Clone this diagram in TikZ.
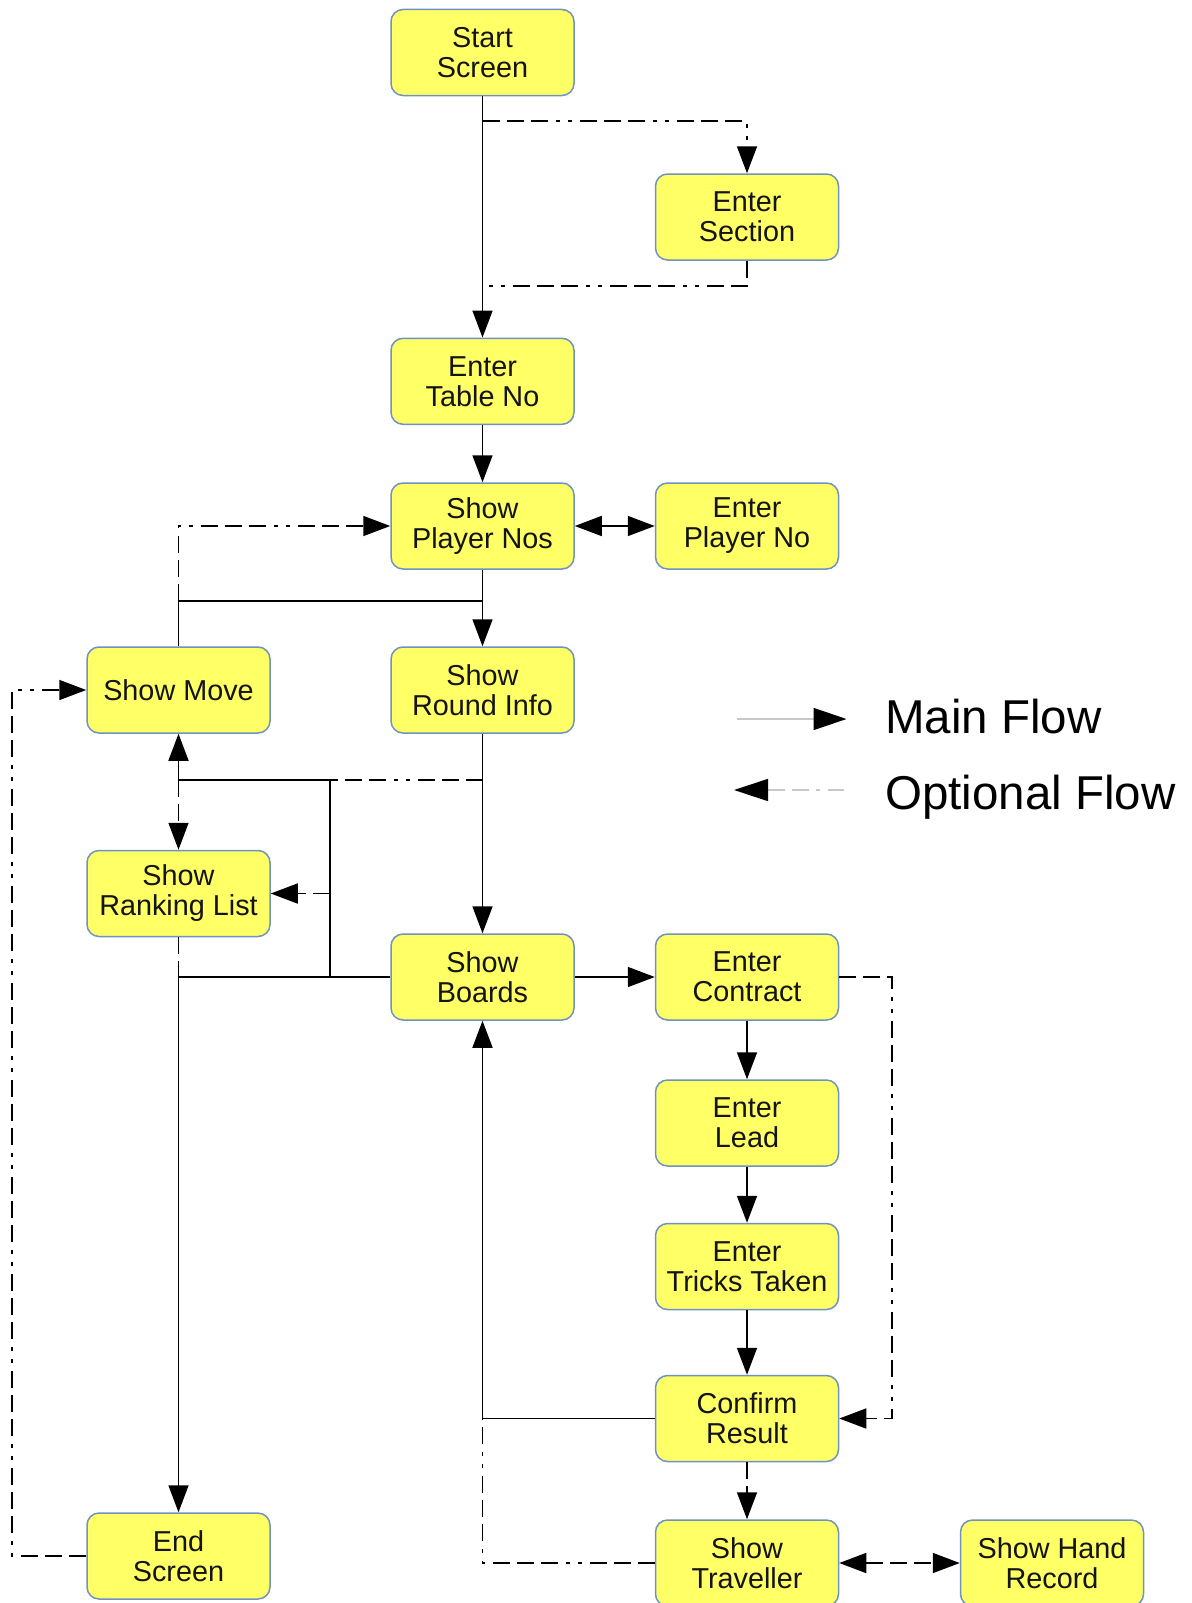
\documentclass[tikz,border=0pt]{standalone}
\usepackage{fontspec}
\setmainfont{Liberation Sans}
\usetikzlibrary{arrows.meta}
\definecolor{boxfill}{HTML}{FFFF66}
\definecolor{boxedge}{HTML}{6F93C0}
\definecolor{txt}{HTML}{141414}
\definecolor{legline}{HTML}{C8C8C8}
\tikzset{
  stepbox/.style={rectangle, rounded corners=12pt, fill=boxfill, draw=boxedge, line width=1.5pt,
    minimum width=183pt, minimum height=86pt, inner sep=0pt, align=center, text=txt,
    font=\fontsize{28.8}{30}\selectfont},
  tip/.style={-{Triangle[length=27pt,width=20pt]}},
  dtip/.style={{Triangle[length=27pt,width=20pt]}-{Triangle[length=27pt,width=20pt]}},
  solidln/.style={line width=1.6pt, black},
  optln/.style={line width=1.6pt, black, dash pattern=on 17pt off 7pt on 17pt off 7pt on 17pt off 8pt on 4pt off 8pt on 4pt off 8pt},
  legtext/.style={anchor=base west, inner sep=0pt, font=\fontsize{47.5}{50}\selectfont, text=black}
}
\begin{document}
\begin{tikzpicture}[x=1pt,y=-1pt]
\useasboundingbox (0,0) rectangle (1191,1603);
% nodes
\node[stepbox] (start) at (482.5,52.5) {Start\\Screen};
\node[stepbox] (section) at (747,217) {Enter\\Section};
\node[stepbox] (table) at (482.5,381.3) {Enter\\Table No};
\node[stepbox] (players) at (482.5,526) {Show\\Player Nos};
\node[stepbox] (playerno) at (747,526) {Enter\\Player No};
\node[stepbox] (move) at (178.5,690) {Show Move};
\node[stepbox] (round) at (482.5,690) {Show\\Round Info};
\node[stepbox] (ranking) at (178.5,893.5) {Show\\Ranking List};
\node[stepbox] (boards) at (482.5,977) {Show\\Boards};
\node[stepbox] (contract) at (747,977) {Enter\\Contract};
\node[stepbox] (lead) at (747,1123) {Enter\\Lead};
\node[stepbox] (tricks) at (747,1266.5) {Enter\\Tricks Taken};
\node[stepbox] (confirm) at (747,1418.5) {Confirm\\Result};
\node[stepbox] (endscr) at (178.5,1556) {End\\Screen};
\node[stepbox] (traveller) at (747,1563) {Show\\Traveller};
\node[stepbox] (hand) at (1052,1563) {Show Hand\\Record};
% junction coordinates
\coordinate (j1) at (482.5,121);
\coordinate (j2) at (482.5,286);
\coordinate (j3) at (178.5,601);
\coordinate (j4) at (482.5,601);
\coordinate (k1) at (482.5,780);
\coordinate (k2) at (330,780);
\coordinate (k3) at (178.5,780);
\coordinate (k4) at (330,977);
\coordinate (k5) at (178.5,977);
\coordinate (k6) at (330,893.5);
\coordinate (m1) at (892,977);
\coordinate (m2) at (892,1418.5);
\coordinate (n1) at (482.5,1418.5);
\coordinate (n2) at (482.5,1563);
\coordinate (p1) at (12,1556);
\coordinate (p2) at (12,690);
% connectors
\draw[solidln,tip] (start) -- (table);
\draw[optln,tip] (j1) -| (section.north);
\draw[optln] (section.south) |- (j2);
\draw[solidln,tip] (table) -- (players);
\draw[solidln,dtip] (players) -- (playerno);
\draw[solidln,tip] (players) -- (round);
\draw[solidln] (move.north) -- (j3) -- (j4);
\draw[optln,tip] (j3) |- (players.west);
\draw[solidln,tip] (round) -- (boards);
\draw[solidln] (boards.west) -- (k5);
\draw[solidln] (k4) -- (k2) -- (k3);
\draw[solidln,tip] (k3) -- (move.south);
\draw[optln] (k1) -- (k2);
\draw[optln,tip] (k3) -- (ranking.north);
\draw[optln,tip] (k6) -- (ranking.east);
\draw[optln] (ranking.south) -- (k5);
\draw[solidln,tip] (k5) -- (endscr.north);
\draw[solidln,tip] (boards) -- (contract);
\draw[solidln,tip] (contract) -- (lead);
\draw[solidln,tip] (lead) -- (tricks);
\draw[solidln,tip] (tricks) -- (confirm);
\draw[optln,tip] (contract.east) -- (m1) -- (m2) -- (confirm.east);
\draw[solidln,tip] (confirm.west) -- (n1) -- (boards.south);
\draw[optln,tip] (confirm) -- (traveller);
\draw[optln,dtip] (traveller) -- (hand);
\draw[optln] (traveller.west) -- (n2) -- (n1);
\draw[optln,tip] (endscr.west) -- (p1) -- (p2) -- (move.west);
% legend
\coordinate (l1) at (737,719);
\coordinate (l2) at (846.5,719);
\coordinate (o1) at (734,790);
\coordinate (o2) at (844,790);
\draw[line width=1.5pt, legline, -{Triangle[length=33pt,width=22pt,color=black]}] (l1) -- (l2);
\draw[line width=1.5pt, legline, dash pattern=on 17pt off 7pt on 17pt off 7pt on 4pt off 8pt, {Triangle[length=34pt,width=22pt,color=black]}-] (o1) -- (o2);
\node[legtext] (mainlbl) at (885,733) {Main Flow};
\node[legtext] (optlbl) at (885,809) {Optional Flow};
\end{tikzpicture}
\end{document}
